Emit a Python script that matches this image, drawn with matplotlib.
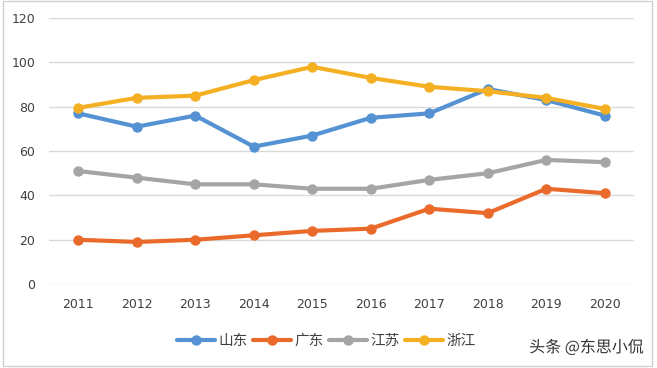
import matplotlib
matplotlib.use("Agg")
import matplotlib.pyplot as plt
import matplotlib.patheffects as pe
from matplotlib.patches import Rectangle

plt.rcParams['font.family'] = ['Noto Sans CJK SC', 'DejaVu Sans']

years = ['2011', '2012', '2013', '2014', '2015', '2016', '2017', '2018', '2019', '2020']
shandong = [77, 71, 76, 62, 67, 75, 77, 88, 83, 76]
guangdong = [20, 19, 20, 22, 24, 25, 34, 32, 43, 41]
jiangsu = [51, 48, 45, 45, 43, 43, 47, 50, 56, 55]
zhejiang = [79.5, 84, 85, 92, 98, 93, 89, 87, 84, 79]
series_names = ['山东', '广东', '江苏', '浙江']
colors = ['#5592D3', '#EA6A2C', '#A5A5A5', '#F4B022']

fig = plt.figure(figsize=(6.57, 3.68), dpi=100)
ax = fig.add_axes([0.0746, 0.228, 0.8904, 0.723])

x = list(range(len(years)))
for name, vals, c in zip(series_names, [shandong, guangdong, jiangsu, zhejiang], colors):
    ax.plot(x, vals, color=c, lw=3.0, marker='o', ms=6.5, label=name, solid_capstyle='round')

ax.set_xlim(-0.5, len(years) - 0.5)
ax.set_ylim(0, 120)
ax.set_yticks(range(0, 121, 20))
ax.set_xticks(x)
ax.set_xticklabels(years, fontsize=9, color='#404040', family=['DejaVu Sans'])
for lbl in ax.get_yticklabels():
    lbl.set_family(['DejaVu Sans'])
ax.tick_params(axis='y', labelsize=9, labelcolor='#404040', length=0, pad=10)
ax.tick_params(axis='x', length=0, pad=10)
ax.grid(axis='y', color='#D9D9D9', lw=1)
ax.set_axisbelow(True)
for s in ax.spines.values():
    s.set_visible(False)

leg = fig.legend(loc='center', bbox_to_anchor=(0.497, 0.073), ncol=4, frameon=False,
                 fontsize=10.5, handlelength=2.6, columnspacing=0.35, handletextpad=0.25,
                 labelcolor='#404040')

fig.text(0.98, 0.055, '头条 @东思小侃', ha='right', va='center', fontsize=11.5, color='#333333',
         path_effects=[pe.withStroke(linewidth=2.5, foreground='white')])

fig.patches.append(Rectangle((0.004, 0.005), 0.988, 0.993, transform=fig.transFigure,
                             fill=False, edgecolor='#D0D0D0', lw=1))

fig.savefig('out.png', dpi=100)
